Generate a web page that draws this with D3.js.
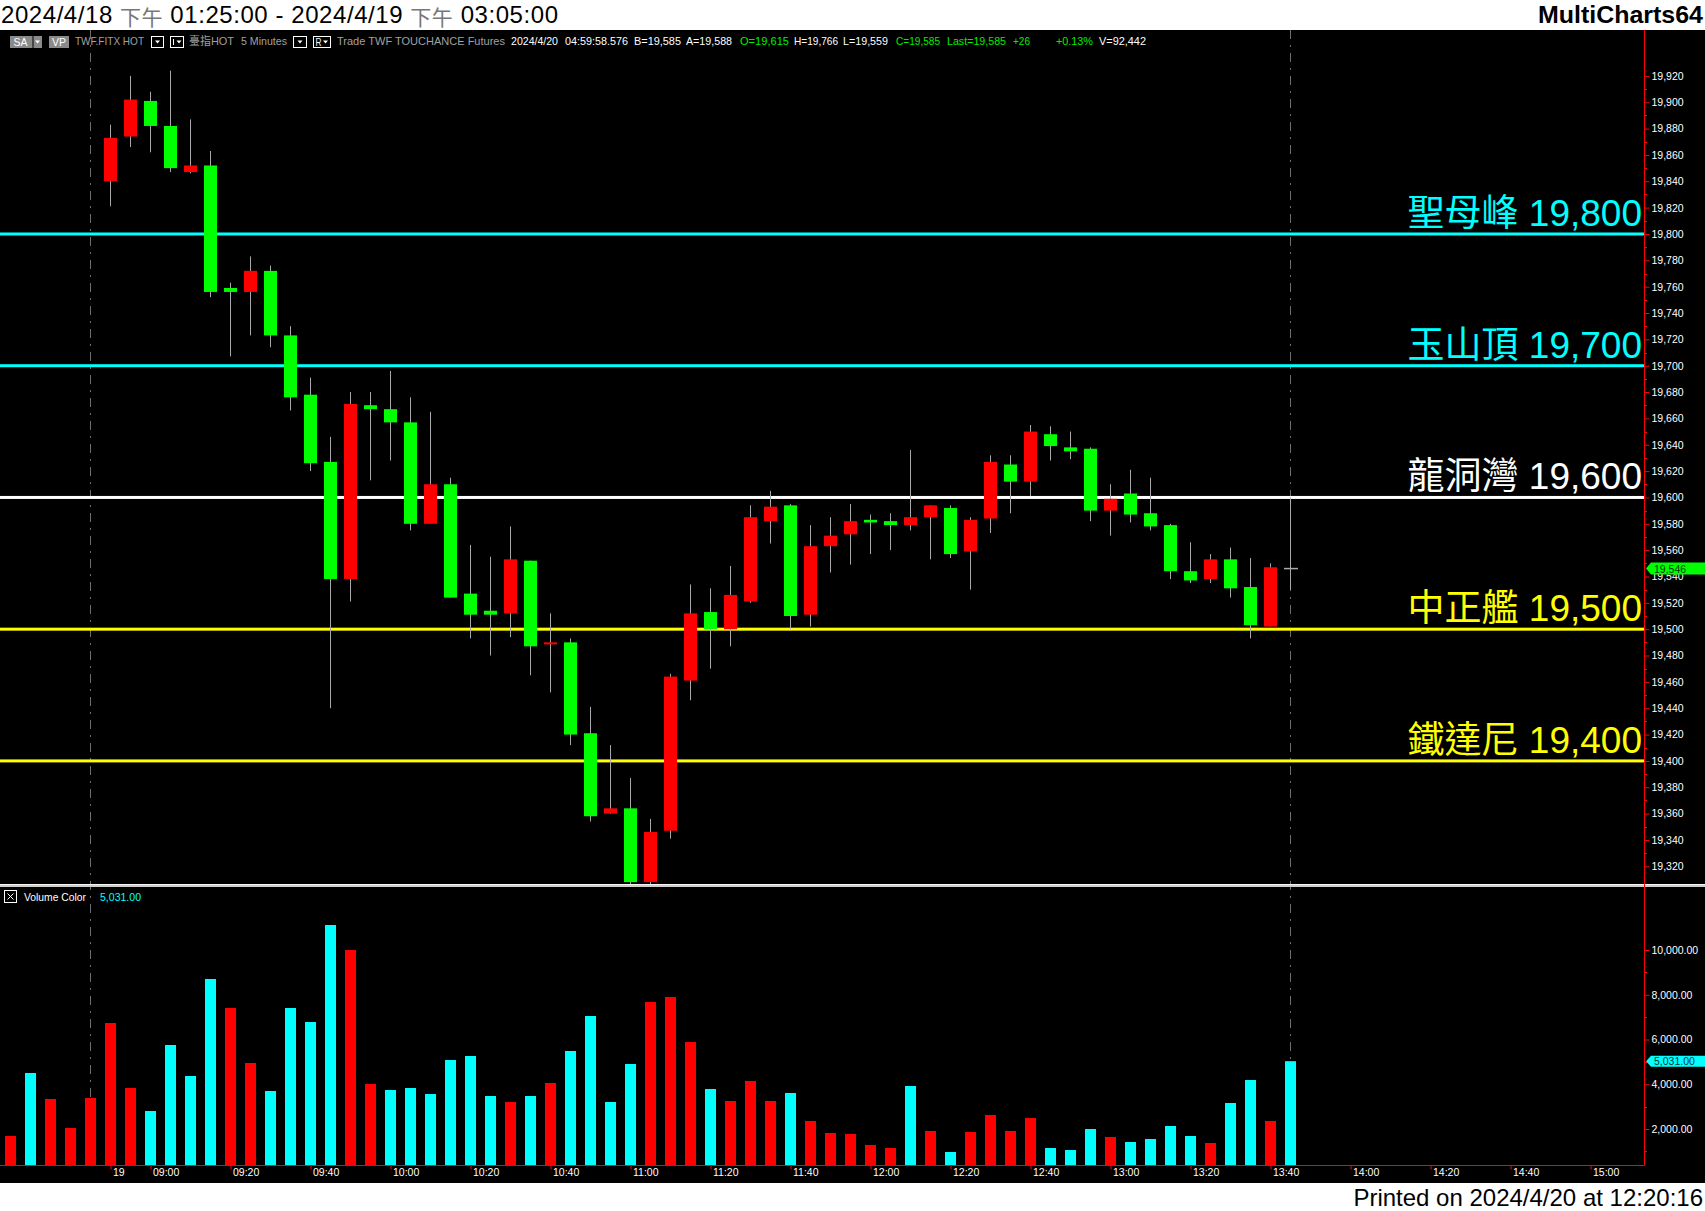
<!DOCTYPE html>
<html><head><meta charset="utf-8">
<script src="https://cdn.jsdelivr.net/npm/d3@7"></script>
<style>html,body{margin:0;padding:0;background:#fff;overflow:hidden}</style>
</head><body>
<svg id="c" width="1705" height="1211"></svg>
<script>
// ---------------- DATA ----------------
const barTimes = ["04:40","04:45","04:50","04:55","05:00",
  "08:50","08:55","09:00","09:05","09:10","09:15","09:20","09:25","09:30","09:35","09:40","09:45","09:50","09:55",
  "10:00","10:05","10:10","10:15","10:20","10:25","10:30","10:35","10:40","10:45","10:50","10:55",
  "11:00","11:05","11:10","11:15","11:20","11:25","11:30","11:35","11:40","11:45","11:50","11:55",
  "12:00","12:05","12:10","12:15","12:20","12:25","12:30","12:35","12:40","12:45","12:50","12:55",
  "13:00","13:05","13:10","13:15","13:20","13:25","13:30","13:35","13:40","13:45"];
const futureSlots = ["13:50","13:55","14:00","14:05","14:10","14:15","14:20","14:25","14:30","14:35","14:40","14:45","14:50","14:55","15:00","15:05","15:10"];

const opens  = [null,null,null,null,null,
  19840,19874,19901,19882,19847,19852,19759,19756,19772,19723,19678,19627,19538,19670,19667,19657,19580,19610,19527,19514,
  19512,19552,19489,19490,19421,19360,19364,19308,19347,19461,19513,19500,19521,19582,19594,19511,19563,19572,19583,19582,
  19579,19585,19592,19559,19584,19625,19612,19648,19638,19637,19590,19603,19588,19579,19544,19538,19553,19532,19502,19546];
const highs  = [null,null,null,null,null,
  19883,19920,19908,19924,19887,19863,19763,19783,19776,19730,19691,19646,19680,19680,19696,19676,19665,19615,19564,19555,
  19578,19552,19512,19493,19441,19412,19387,19356,19466,19534,19531,19548,19594,19605,19595,19579,19585,19595,19587,19588,
  19636,19594,19594,19585,19632,19632,19655,19654,19650,19638,19610,19621,19615,19580,19566,19557,19562,19554,19550,19600];
const lows   = [null,null,null,null,null,
  19821,19866,19862,19847,19846,19752,19707,19723,19714,19666,19620,19440,19521,19613,19628,19575,19580,19524,19493,19480,
  19494,19465,19452,19412,19354,19360,19305,19305,19341,19446,19470,19487,19520,19565,19500,19502,19543,19549,19557,19560,
  19575,19553,19554,19530,19573,19588,19601,19628,19629,19582,19571,19581,19575,19538,19535,19535,19524,19493,19502,19530];
const closes = [null,null,null,null,null,
  19873,19902,19882,19850,19852,19756,19756,19772,19723,19676,19626,19538,19671,19667,19657,19580,19610,19524,19511,19511,
  19553,19487,19490,19420,19358,19364,19308,19346,19464,19512,19500,19526,19585,19593,19510,19563,19571,19582,19581,19579,
  19585,19594,19557,19583,19627,19612,19650,19639,19635,19590,19599,19587,19578,19544,19537,19553,19531,19503,19547,19546];

const volumes = [1687,4503,3341,2045,3385,6737,3832,2804,5754,4369,
  8704,7408,4950,3698,7408,6782,11117,10000,4011,3743,
  3832,3564,5084,5263,3475,3207,3475,4056,5486,7050,
  3207,4905,7676,7899,5888,3788,3251,4145,3251,3609,
  2358,1821,1777,1285,1151,3922,1911,972,1866,2626,
  1911,2492,1151,1061,2000,1642,1419,1553,2134,1687,
  1374,3162,4190,2358,5031];
// volume colour direction: "u" = red, "d" = cyan
const volumeDir = ["u","d","u","u","u","u","u","d","d","d",
  "d","u","u","d","d","d","d","u","u","d",
  "d","d","d","d","d","u","d","u","d","d",
  "d","d","u","u","u","d","u","u","u","d",
  "u","u","u","u","u","d","u","d","u","u",
  "u","u","d","d","d","u","d","d","d","d",
  "u","d","d","u","d"];

const timeTickSlots  = ["08:50","09:00","09:20","09:40","10:00","10:20","10:40","11:00","11:20","11:40","12:00","12:20","12:40","13:00","13:20","13:40","14:00","14:20","14:40","15:00"];
const timeTickLabels = ["19","09:00","09:20","09:40","10:00","10:20","10:40","11:00","11:20","11:40","12:00","12:20","12:40","13:00","13:20","13:40","14:00","14:20","14:40","15:00"];
const priceTicks = [19920,19900,19880,19860,19840,19820,19800,19780,19760,19740,19720,19700,19680,19660,19640,19620,19600,
  19580,19560,19540,19520,19500,19480,19460,19440,19420,19400,19380,19360,19340,19320];
const volumeTicks = [2000,4000,6000,8000,10000];
const volumeMinorTicks = [1000,3000,5000,7000,9000];

const levelNames  = ["聖母峰","玉山頂","龍洞灣","中正艦","鐵達尼"];
const levelValues = [19800,19700,19600,19500,19400];
const lastPrice = 19546;
const lastVolume = 5031;
const sepSlots = ["05:00","13:45"];

// ---------------- STYLE ----------------
const F = "'Liberation Sans', Arial, 'Noto Sans CJK TC', sans-serif";
const CJK = "'Noto Sans CJK TC', 'Noto Sans CJK SC', sans-serif";
const levelColor = {"聖母峰":"#00ffff","玉山頂":"#00ffff","龍洞灣":"#ffffff","中正艦":"#ffff00","鐵達尼":"#ffff00"};
const UP = "#ff0000", DN = "#00ff00", WICK = "#a8a8a8";
const VUP = "#ff0000", VDN = "#00ffff";
const GREEN = "#00ee00", GRAY = "#a0a0a0";

const svg = d3.select("#c");
svg.append("rect").attr("width",1705).attr("height",1211).attr("fill","#fff");
svg.append("rect").attr("x",0).attr("y",30).attr("width",1705).attr("height",1153).attr("fill","#000");

// scales
const allSlots = barTimes.concat(futureSlots);
const x = d3.scalePoint().domain(allSlots).range([10, 1630]);
const y = d3.scaleLinear().domain([19320, 19920]).range([866.3, 75.9]);
const yv = d3.scaleLinear().domain([0, 10000]).range([1173.75, 950]);
const AXX = 1644, PBOT = 884, VBOT = 1165;

const defs = svg.append("defs");
defs.append("clipPath").attr("id","pc").append("rect").attr("x",0).attr("y",52).attr("width",AXX).attr("height",PBOT-52);
defs.append("clipPath").attr("id","vc").append("rect").attr("x",0).attr("y",888).attr("width",AXX).attr("height",VBOT-888);

function txt(px, py, s, o={}) {
  const e = svg.append("text").attr("x",px).attr("y",py)
    .attr("font-family",o.family||F).attr("font-size",o.size||11).attr("fill",o.fill||"#fff").text(s);
  if (o.w) e.attr("textLength",o.w).attr("lengthAdjust","spacingAndGlyphs");
  if (o.anchor) e.attr("text-anchor",o.anchor);
  if (o.weight) e.attr("font-weight",o.weight);
  return e;
}

// ---------------- title / footer ----------------
const title = svg.append("text").attr("x",1).attr("y",23).attr("font-family",F).attr("font-size",24).attr("fill","#000")
  .attr("textLength",557).attr("lengthAdjust","spacing");
title.append("tspan").text("2024/4/18 ");
title.append("tspan").attr("fill","#777").attr("font-family",CJK).attr("font-size",21).attr("dy",2).text("下午");
title.append("tspan").attr("dy",-2).text(" 01:25:00 - 2024/4/19 ");
title.append("tspan").attr("fill","#777").attr("font-family",CJK).attr("font-size",21).attr("dy",2).text("下午");
title.append("tspan").attr("dy",-2).text(" 03:05:00");
txt(1538, 23, "MultiCharts64", {size:24, weight:"bold", fill:"#000", w:165});
txt(1703, 1206, "Printed on 2024/4/20 at 12:20:16", {size:24, fill:"#000", anchor:"end"});

// ---------------- info row ----------------
function arrow(cx, col){ svg.append("polygon").attr("points",`${cx-2.5},40.5 ${cx+2.5},40.5 ${cx},43.5`).attr("fill",col); }
svg.append("rect").attr("x",10).attr("y",36).attr("width",32).attr("height",12).attr("fill","#8a8a8a");
svg.append("line").attr("x1",33).attr("x2",33).attr("y1",36).attr("y2",48).attr("stroke","#000");
txt(13.5, 45.5, "SA", {w:14, size:11});
arrow(37.5, "#fff");
svg.append("rect").attr("x",49).attr("y",36).attr("width",20).attr("height",12).attr("fill","#8a8a8a");
txt(52, 45.5, "VP", {w:14, size:11});
txt(75, 45, "TWF.FITX HOT", {fill:GRAY, w:69});
[[151,163],[170,183],[293,306],[313,330]].forEach(([a,b])=>{
  svg.append("rect").attr("x",a+0.5).attr("y",36.5).attr("width",b-a).attr("height",11).attr("fill","#000").attr("stroke","#fff");
});
arrow(157.5,"#fff");
svg.append("line").attr("x1",173.5).attr("x2",173.5).attr("y1",39).attr("y2",45).attr("stroke","#fff");
arrow(179,"#fff");
arrow(300,"#fff");
txt(315.5, 45.5, "R", {size:10, w:6});
arrow(325.5,"#fff");
txt(189, 45, "臺指HOT", {fill:GRAY, w:45});
txt(241, 45, "5 Minutes", {fill:GRAY, w:46});
txt(337, 45, "Trade  TWF  TOUCHANCE  Futures", {fill:GRAY, w:168});
txt(511, 45, "2024/4/20", {w:47});
txt(565, 45, "04:59:58.576", {w:63});
txt(634, 45, "B=19,585", {w:47});
txt(686, 45, "A=19,588", {w:46});
txt(740, 45, "O=19,615", {fill:GREEN, w:49});
txt(794, 45, "H=19,766", {w:44});
txt(843, 45, "L=19,559", {w:45});
txt(896, 45, "C=19,585", {fill:GREEN, w:44});
txt(947, 45, "Last=19,585", {fill:GREEN, w:59});
txt(1013, 45, "+26", {fill:GREEN, w:17});
txt(1056, 45, "+0.13%", {fill:GREEN, w:37});
txt(1099, 45, "V=92,442", {w:47});

// ---------------- separators ----------------
sepSlots.forEach(s => {
  svg.append("line").attr("x1",x(s)+0.5).attr("x2",x(s)+0.5).attr("y1",30).attr("y2",VBOT)
    .attr("stroke","#6e6e6e").attr("stroke-dasharray","9,6,2,6");
});

// ---------------- level lines ----------------
levelNames.forEach((n,i)=>{
  const ly = y(levelValues[i]);
  svg.append("rect").attr("x",0).attr("y",ly-1.5).attr("width",AXX).attr("height",3).attr("fill",levelColor[n]);
  const t = svg.append("text").attr("x",1642).attr("y",ly-8).attr("text-anchor","end")
    .attr("font-size",37).attr("fill",levelColor[n]).attr("font-family",F);
  t.append("tspan").attr("font-family",CJK).text(n);
  t.append("tspan").text(" " + d3.format(",")(levelValues[i]));
});

// ---------------- candles ----------------
const bars = barTimes.map((t,i)=>({t, o:opens[i], h:highs[i], l:lows[i], c:closes[i], v:volumes[i], d:volumeDir[i]}));
const cg = svg.append("g").attr("clip-path","url(#pc)");
const cb = bars.filter(b=>b.o!=null);
cg.selectAll("line.w").data(cb).join("line").attr("class","w")
  .attr("x1",b=>x(b.t)+0.5).attr("x2",b=>x(b.t)+0.5).attr("y1",b=>y(b.h)).attr("y2",b=>y(b.l))
  .attr("stroke",WICK).attr("stroke-width",1);
cg.selectAll("rect.b").data(cb.filter(b=>b.o!==b.c)).join("rect").attr("class","b")
  .attr("x",b=>x(b.t)-6).attr("width",13)
  .attr("y",b=>y(Math.max(b.o,b.c)))
  .attr("height",b=>Math.max(2, Math.abs(y(b.o)-y(b.c))))
  .attr("fill",b=>b.c>b.o?UP:DN);
cg.selectAll("line.d").data(cb.filter(b=>b.o===b.c)).join("line").attr("class","d")
  .attr("x1",b=>x(b.t)-6).attr("x2",b=>x(b.t)+8).attr("y1",b=>y(b.c)).attr("y2",b=>y(b.c))
  .attr("stroke",WICK).attr("stroke-width",1.5);

// ---------------- volume ----------------
const vg = svg.append("g").attr("clip-path","url(#vc)");
vg.selectAll("rect").data(bars).join("rect")
  .attr("x",b=>x(b.t)-5).attr("width",11)
  .attr("y",b=>yv(b.v)).attr("height",b=>VBOT-yv(b.v))
  .attr("fill",b=>b.d==="u"?VUP:VDN);

// panel separator
svg.append("rect").attr("x",0).attr("y",884).attr("width",1705).attr("height",3).attr("fill","#cfcfcf");
svg.append("rect").attr("x",0).attr("y",884).attr("width",1705).attr("height",1).attr("fill","#f4f4f4");

// volume header
svg.append("rect").attr("x",4.5).attr("y",890.5).attr("width",12).attr("height",12).attr("fill","none").attr("stroke","#fff");
svg.append("path").attr("d","M7.5,893.5L13.5,899.5M13.5,893.5L7.5,899.5").attr("stroke","#fff");
txt(24, 900.5, "Volume Color", {size:10.5, w:62});
txt(100, 900.5, d3.format(",.2f")(lastVolume), {size:10.5, fill:"#00ffff", w:41});

// ---------------- axes ----------------
svg.append("line").attr("x1",AXX+0.5).attr("x2",AXX+0.5).attr("y1",30).attr("y2",VBOT+0.5).attr("stroke","#ff0000");
svg.append("line").attr("x1",0).attr("x2",AXX+0.5).attr("y1",VBOT+0.5).attr("y2",VBOT+0.5).attr("stroke","#ff0000");

function styleAxis(g){
  g.select(".domain").remove();
  g.selectAll(".tick line").attr("stroke","#ff0000");
  g.selectAll(".tick text").attr("fill","#fff").attr("font-family",F).attr("font-size",10.5);
}
const pa = svg.append("g").attr("transform",`translate(${AXX+0.5},0)`)
  .call(d3.axisRight(y).tickValues(priceTicks).tickSize(5).tickPadding(2).tickFormat(d3.format(",")));
styleAxis(pa);
// minor price ticks
const pMinor = priceTicks.slice(1).map((p,i)=>(p+priceTicks[i])/2);
svg.selectAll("line.pm").data(pMinor).join("line").attr("class","pm")
  .attr("x1",AXX).attr("x2",AXX+3).attr("y1",d=>Math.round(y(d))+0.5).attr("y2",d=>Math.round(y(d))+0.5).attr("stroke","#ff0000");

const va = svg.append("g").attr("transform",`translate(${AXX+0.5},0)`)
  .call(d3.axisRight(yv).tickValues(volumeTicks).tickSize(5).tickPadding(2).tickFormat(d3.format(",.2f")));
styleAxis(va);
svg.selectAll("line.vm").data(volumeMinorTicks).join("line").attr("class","vm")
  .attr("x1",AXX).attr("x2",AXX+3).attr("y1",d=>Math.round(yv(d))+0.5).attr("y2",d=>Math.round(yv(d))+0.5).attr("stroke","#ff0000");

const ta = svg.append("g").attr("transform",`translate(0.5,${VBOT+0.5})`)
  .call(d3.axisBottom(x).tickValues(timeTickSlots).tickSize(4).tickPadding(2)
    .tickFormat(s=>timeTickLabels[timeTickSlots.indexOf(s)]));
styleAxis(ta);
ta.selectAll(".tick text").attr("text-anchor","start").attr("dx",2).attr("dy","0.6em").attr("y",4);

// ---------------- last value markers ----------------
const py = y(lastPrice);
svg.append("polygon").attr("points",`1646,${py} 1651,${py-6} 1705,${py-6} 1705,${py+6} 1651,${py+6}`).attr("fill","#00ff00");
txt(1654, py+4, d3.format(",")(lastPrice), {size:10.5, fill:"#063806"});
const vy = yv(lastVolume);
svg.append("polygon").attr("points",`1646,${vy} 1651,${vy-5.5} 1705,${vy-5.5} 1705,${vy+5.5} 1651,${vy+5.5}`).attr("fill","#00ffff");
txt(1654, vy+4, d3.format(",.2f")(lastVolume), {size:10.5, fill:"#063838"});
</script>
</body></html>
